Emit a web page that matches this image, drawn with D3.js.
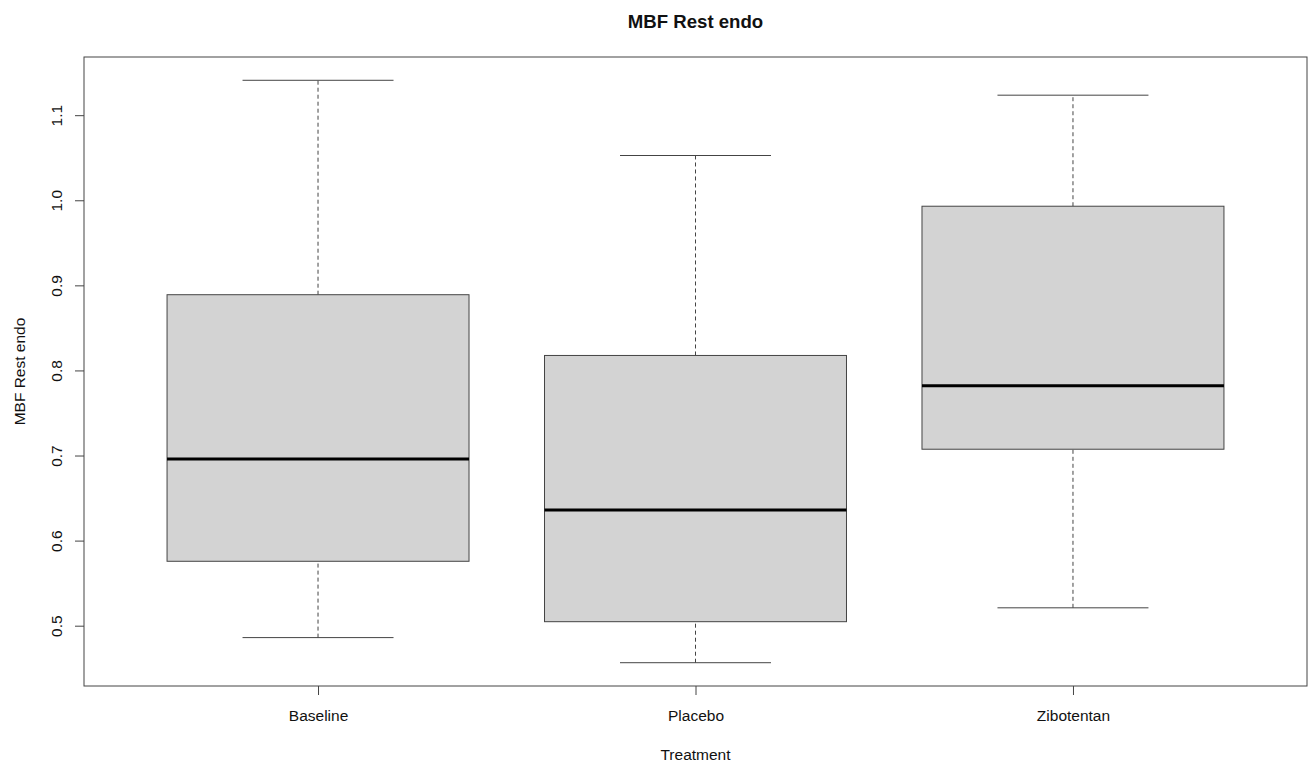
<!DOCTYPE html>
<html>
<head>
<meta charset="utf-8">
<script src="https://cdn.jsdelivr.net/npm/d3@7"></script>
<style>
  body { margin: 0; background: #fff; }
  text { font-family: "Liberation Sans", Arial, sans-serif; fill: #111; }
</style>
</head>
<body>
<svg id="chart"></svg>
<script>
// Box summaries
const groups = ["Baseline", "Placebo", "Zibotentan"];
const lowWhisker = [0.486, 0.4565, 0.521];
const q1 = [0.5757, 0.5047, 0.7074];
const medians = [0.696, 0.636, 0.782];
const q3 = [0.889, 0.8176, 0.993];
const highWhisker = [1.141, 1.0526, 1.1235];
const yTicks = [0.5, 0.6, 0.7, 0.8, 0.9, 1.0, 1.1];

const width = 1316, height = 766;
const margin = { top: 57, right: 9, bottom: 80, left: 84 };
const fontSize = 15.5;

const svg = d3.select("#chart").attr("width", width).attr("height", height);

// R style 4% extension of the ranges
const yMin = d3.min(lowWhisker), yMax = d3.max(highWhisker);
const yPad = (yMax - yMin) * 0.04;

const x = d3.scaleLinear()
  .domain([0.38, 3.62])
  .range([margin.left, width - margin.right]);

const y = d3.scaleLinear()
  .domain([yMin - yPad, yMax + yPad])
  .range([height - margin.bottom, margin.top]);

const boxes = groups.map((g, i) => ({
  name: g, pos: i + 1,
  lo: lowWhisker[i], q1: q1[i], med: medians[i], q3: q3[i], hi: highWhisker[i]
}));

const line = "#444";

// Whiskers (dashed)
svg.append("g").selectAll("line")
  .data(boxes.flatMap(d => [[d.pos, d.lo, d.q1], [d.pos, d.q3, d.hi]]))
  .join("line")
  .attr("x1", d => x(d[0])).attr("x2", d => x(d[0]))
  .attr("y1", d => y(d[1])).attr("y2", d => y(d[2]))
  .attr("stroke", line)
  .attr("stroke-dasharray", "4,3");

// Staples
svg.append("g").selectAll("line")
  .data(boxes.flatMap(d => [[d.pos, d.lo], [d.pos, d.hi]]))
  .join("line")
  .attr("x1", d => x(d[0] - 0.2)).attr("x2", d => x(d[0] + 0.2))
  .attr("y1", d => y(d[1])).attr("y2", d => y(d[1]))
  .attr("stroke", line);

// Boxes
svg.append("g").selectAll("rect")
  .data(boxes)
  .join("rect")
  .attr("x", d => x(d.pos - 0.4))
  .attr("width", d => x(d.pos + 0.4) - x(d.pos - 0.4))
  .attr("y", d => y(d.q3))
  .attr("height", d => y(d.q1) - y(d.q3))
  .attr("fill", "#d3d3d3")
  .attr("stroke", line);

// Medians
svg.append("g").selectAll("line")
  .data(boxes)
  .join("line")
  .attr("x1", d => x(d.pos - 0.4)).attr("x2", d => x(d.pos + 0.4))
  .attr("y1", d => y(d.med)).attr("y2", d => y(d.med))
  .attr("stroke", "#000")
  .attr("stroke-width", 3);

// Frame
svg.append("rect")
  .attr("x", margin.left).attr("y", margin.top)
  .attr("width", width - margin.left - margin.right)
  .attr("height", height - margin.top - margin.bottom)
  .attr("fill", "none")
  .attr("stroke", line);

// Y axis
const yAxis = svg.append("g")
  .attr("transform", `translate(${margin.left},0)`)
  .call(d3.axisLeft(y).tickValues(yTicks).tickFormat(d3.format(".1f")).tickSize(9).tickSizeOuter(0));
yAxis.select(".domain").remove();
yAxis.selectAll(".tick line").attr("stroke", line);
yAxis.selectAll(".tick text")
  .attr("font-size", fontSize)
  .attr("text-anchor", "middle")
  .attr("x", 0).attr("dy", 0)
  .attr("transform", "translate(-22,0) rotate(-90)");

// X axis
const xAxis = svg.append("g")
  .attr("transform", `translate(0,${height - margin.bottom})`)
  .call(d3.axisBottom(x).tickValues([1, 2, 3]).tickFormat(d => groups[d - 1]).tickSize(9).tickSizeOuter(0));
xAxis.select(".domain").remove();
xAxis.selectAll(".tick line").attr("stroke", line);
xAxis.selectAll(".tick text")
  .attr("font-size", fontSize)
  .attr("y", 0).attr("dy", 0)
  .attr("transform", "translate(0,35)");

// Titles
svg.append("text")
  .attr("x", (margin.left + width - margin.right) / 2)
  .attr("y", 28)
  .attr("text-anchor", "middle")
  .attr("font-size", fontSize * 1.2)
  .attr("font-weight", "bold")
  .text("MBF Rest endo");

svg.append("text")
  .attr("x", (margin.left + width - margin.right) / 2)
  .attr("y", 760)
  .attr("text-anchor", "middle")
  .attr("font-size", fontSize)
  .text("Treatment");

svg.append("text")
  .attr("transform", `translate(25,${(margin.top + height - margin.bottom) / 2}) rotate(-90)`)
  .attr("text-anchor", "middle")
  .attr("font-size", fontSize)
  .text("MBF Rest endo");
</script>
</body>
</html>
